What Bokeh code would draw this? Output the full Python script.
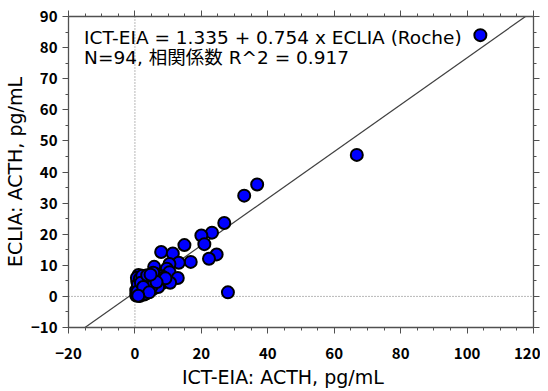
from bokeh.plotting import figure
from bokeh.models import Range1d, LinearAxis, FixedTicker, Span, Label
from bokeh.embed import file_html
from bokeh.resources import INLINE

# ICT-EIA (x) and ECLIA (y) ACTH values, pg/mL
ict = [104.0, 66.8, 36.8, 32.9, 26.9, 23.2, 20.0, 20.9, 14.9, 7.9,
       11.4, 24.6, 22.3, 16.8, 13.2, 10.4, 5.8, 9.6, 10.4, 1.2,
       4.6, 6.4, 12.9, 8.4, 10.6, 6.4, 1.4, 1.4, 3.9, 4.2,
       1.4, 1.4, 0.4, 28.0, 1.1,
       0.5, 0.8, 1.0, 1.2, 0.9, 1.6, 2.0, 2.3, 2.6, 3.0,
       3.3, 3.6, 0.7, 1.9, 2.8, 3.4, 4.8, 5.2, 5.6, 6.0,
       0.6, 1.3, 1.7, 2.1, 2.4, 2.9, 3.2, 3.8, 4.4, 4.9,
       5.4, 5.9, 6.2, 6.8, 7.2, 7.4, 8.1, 8.6, 9.2, 7.0,
       0.4, 0.9, 1.5, 2.2, 2.7, 3.1, 3.5, 4.0, 4.5, 5.0,
       5.5, 6.5, 0.8, 1.8, 2.5, 3.7, 4.3, 4.7, 1.0]
eclia = [84.0, 45.5, 36.0, 32.4, 23.6, 20.5, 19.6, 16.8, 16.5, 14.3,
         13.8, 13.5, 12.1, 11.1, 10.8, 10.4, 9.5, 8.9, 7.8, 6.3,
         6.4, 5.7, 5.9, 4.4, 4.4, 3.6, 4.1, 1.8, 1.9, 1.5,
         0.8, 0.1, 0.3, 1.3, 6.9,
         1.0, 2.5, 3.3, 5.2, 0.5, 2.9, 3.8, 1.2, 4.6, 2.8,
         5.5, 3.2, 4.8, 6.0, 0.6, 1.0, 2.7, 4.3, 6.8, 5.0,
         6.0, 2.2, 0.4, 5.1, 2.0, 3.6, 6.1, 4.1, 3.4, 5.6,
         2.4, 3.9, 7.2, 6.1, 4.8, 6.2, 6.5, 6.0, 5.8, 3.0,
         2.0, 3.8, 5.7, 6.6, 2.4, 0.9, 4.6, 2.3, 5.0, 3.1,
         7.6, 4.6, 1.6, 4.4, 3.0, 6.8, 1.3, 7.0, 0.2]

intercept = 1.335
slope = 0.754
n_points = 94
r2 = 0.917

x_ticks = [-20, 0, 20, 40, 60, 80, 100, 120]
x_minor = list(range(-20, 121, 5))
y_ticks = [-10, 0, 10, 20, 30, 40, 50, 60, 70, 80, 90]
y_minor = list(range(-10, 91, 5))

x_label = "ICT-EIA: ACTH, pg/mL"
y_label = "ECLIA: ACTH, pg/mL"

TICK_FONT = "Noto Sans CJK JP"
TEXT_FONT = "DejaVu Sans, Noto Sans CJK JP"
AX = "#505050"

p = figure(width=540, height=391, x_range=Range1d(-20, 120), y_range=Range1d(-10, 90),
           output_backend="svg", toolbar_location=None,
           min_border_left=65, min_border_right=7, min_border_top=16, min_border_bottom=64)
p.xgrid.visible = False
p.ygrid.visible = False
p.outline_line_color = None
p.background_fill_color = "white"
p.border_fill_color = "white"


def style(ax, ticks, minor, show_labels):
    ax.ticker = FixedTicker(ticks=ticks, minor_ticks=minor)
    ax.axis_line_color = AX
    ax.axis_line_width = 1.3
    ax.major_tick_line_color = AX
    ax.minor_tick_line_color = AX
    ax.major_tick_in = 0
    ax.major_tick_out = 6
    ax.minor_tick_in = 0
    ax.minor_tick_out = 3
    if show_labels:
        ax.major_label_text_font = TICK_FONT
        ax.major_label_text_font_size = "15px"
        ax.major_label_text_font_style = "bold"
        ax.major_label_text_color = "black"
    else:
        ax.major_label_overrides = {t: "" for t in ticks}
        ax.major_label_text_font_size = "1px"
        ax.major_label_standoff = 0


xa = p.xaxis[0]
style(xa, x_ticks, x_minor, True)
xa.major_label_standoff = 14
xa.major_label_overrides = {-20: "\u221220"}
xa.axis_label = x_label + "\u00a0" * 6
xa.axis_label_text_font = TEXT_FONT
xa.axis_label_text_font_size = "19px"
xa.axis_label_text_font_style = "normal"
xa.axis_label_text_color = "black"
xa.axis_label_standoff = 4

ya = p.yaxis[0]
style(ya, y_ticks, y_minor, True)
ya.major_label_standoff = 5
ya.major_label_overrides = {-10: "\u221210"}
ya.axis_label = y_label
ya.axis_label_text_font = TEXT_FONT
ya.axis_label_text_font_size = "19px"
ya.axis_label_text_font_style = "normal"
ya.axis_label_text_color = "black"
ya.axis_label_standoff = 2

top = LinearAxis()
style(top, x_ticks, x_minor, False)
p.add_layout(top, "above")
right = LinearAxis()
style(right, y_ticks, y_minor, False)
p.add_layout(right, "right")

p.add_layout(Span(location=0, dimension="height", line_color="#707070",
                  line_dash="1 2", line_width=1, level="underlay"))
p.add_layout(Span(location=0, dimension="width", line_color="#707070",
                  line_dash="1 2", line_width=1, level="underlay"))

lx = [p.x_range.start, p.x_range.end]
ly = [intercept + slope * v for v in lx]
p.line(lx, ly, line_color="#404040", line_width=1.2)

p.scatter(ict, eclia, marker="circle", size=12, fill_color="#0000FF",
          line_color="black", line_width=2)

p.add_layout(Label(x=-15.3, y=83.1, text=f"ICT-EIA = {intercept} + {slope} x ECLIA (Roche)",
                   text_font=TEXT_FONT, text_font_size="18.5px", text_baseline="middle",
                   text_color="black"))
p.add_layout(Label(x=-15.3, y=76.8, text=f"N={n_points}, 相関係数 R^2 = {r2}",
                   text_font=TEXT_FONT, text_font_size="18.5px", text_baseline="middle",
                   text_color="black"))

open("out.html", "w").write(file_html(p, INLINE))
